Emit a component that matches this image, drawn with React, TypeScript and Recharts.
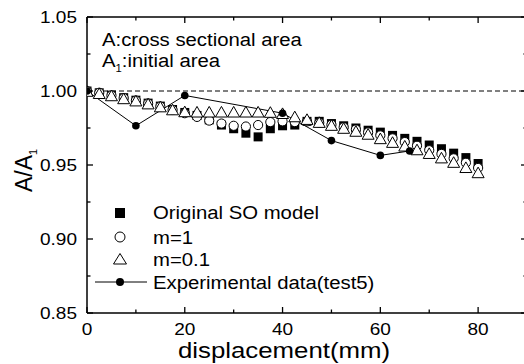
import React from 'react';
import { ComposedChart, XAxis, YAxis, Scatter, Line, ReferenceLine } from 'recharts';

// ---------- data ----------
const displacement = [
  0, 2.5, 5, 7.5, 10, 12.5, 15, 17.5, 20, 22.5, 25, 27.5, 30, 32.5, 35, 37.5, 40,
  42.5, 45, 47.5, 50, 52.5, 55, 57.5, 60, 62.5, 65, 67.5, 70, 72.5, 75, 77.5, 80,
];
const soModel = [
  1.0, 0.9988, 0.9972, 0.9955, 0.9938, 0.9918, 0.9898, 0.9875, 0.9855, 0.9835, 0.9805,
  0.977, 0.9745, 0.9715, 0.969, 0.9745, 0.9765, 0.977, 0.9795, 0.9795, 0.978, 0.9765,
  0.975, 0.9735, 0.9722, 0.97, 0.968, 0.966, 0.9635, 0.961, 0.958, 0.955, 0.951,
];
const m1 = [
  1.0, 0.9988, 0.997, 0.9952, 0.9935, 0.9915, 0.9895, 0.9872, 0.985, 0.9825, 0.98,
  0.978, 0.9765, 0.976, 0.977, 0.979, 0.9795, 0.979, 0.9795, 0.9785, 0.9772, 0.9755,
  0.974, 0.972, 0.97, 0.968, 0.9655, 0.963, 0.96, 0.9575, 0.9545, 0.9515, 0.948,
];
const m01 = [
  1.0, 0.9985, 0.997, 0.995, 0.9935, 0.9915, 0.9895, 0.9875, 0.9862, 0.986, 0.986,
  0.986, 0.986, 0.986, 0.986, 0.9858, 0.985, 0.9828, 0.981, 0.979, 0.977, 0.975,
  0.973, 0.971, 0.968, 0.9655, 0.963, 0.9605, 0.958, 0.955, 0.952, 0.9485, 0.945,
];
const expX = [0, 10, 20, 40, 50, 60, 66];
const expY = [1.0, 0.9765, 0.997, 0.985, 0.9665, 0.9565, 0.9595];

const seriesNames = ['Original SO model', 'm=1', 'm=0.1', 'Experimental data(test5)'];
const xTicks = [0, 10, 20, 30, 40, 50, 60, 70, 80, 90];
const xMajor = [0, 20, 40, 60, 80];
const yTicks = [0.85, 0.875, 0.9, 0.925, 0.95, 0.975, 1.0, 1.025, 1.05];
const yMajor = [0.85, 0.9, 0.95, 1.0, 1.05];
const note1 = 'A:cross sectional area';
const note2Main = 'A';
const note2Sub = '1';
const note2Rest = ':initial area';
const xTitle = 'displacement(mm)';
const yTitleMain = 'A/A';
const yTitleSub = '1';

// ---------- build ----------
const toPts = (ys: number[]) => displacement.map((x, i) => ({ x, y: ys[i] }));
const soData = toPts(soModel);
const m1Data = toPts(m1);
const m01Data = toPts(m01);
const expData = expX.map((x, i) => ({ x, y: expY[i] }));

const FONT = '"Liberation Sans", Arial, sans-serif';
const SX = 1.12;

const isMajor = (list: number[], v: number) => list.some((m) => Math.abs(m - v) < 1e-9);

const BottomTick = (p: any) => {
  const { x, y, payload } = p;
  const v = payload.value;
  const major = isMajor(xMajor, v);
  return (
    <g>
      <line x1={x} x2={x} y1={y} y2={y - (major ? 6 : 3.5)} stroke="#000" strokeWidth={1.3} />
      {major && (
        <text transform={`translate(${x},${y + 22}) scale(${SX},1)`} textAnchor="middle" fontSize={17} fontFamily={FONT} fill="#000">
          {String(v)}
        </text>
      )}
    </g>
  );
};
const TopTick = (p: any) => {
  const { x, y, payload } = p;
  const major = isMajor(xMajor, payload.value);
  return <line x1={x} x2={x} y1={y} y2={y + (major ? 6 : 3.5)} stroke="#000" strokeWidth={1.3} />;
};
const LeftTick = (p: any) => {
  const { x, y, payload } = p;
  const v = payload.value;
  const major = isMajor(yMajor, v);
  return (
    <g>
      <line x1={x} x2={x + (major ? 6 : 3.5)} y1={y} y2={y} stroke="#000" strokeWidth={1.3} />
      {major && (
        <text transform={`translate(${x - 10},${y + 6}) scale(${SX},1)`} textAnchor="end" fontSize={17} fontFamily={FONT} fill="#000">
          {v.toFixed(2)}
        </text>
      )}
    </g>
  );
};
const RightTick = (p: any) => {
  const { x, y, payload } = p;
  const major = isMajor(yMajor, payload.value);
  return <line x1={x} x2={x - (major ? 6 : 3.5)} y1={y} y2={y} stroke="#000" strokeWidth={1.3} />;
};

const SquareShape = (p: any) => <rect x={p.cx - 4.5} y={p.cy - 4.5} width={9} height={9} fill="#000" />;
const CircleShape = (p: any) => <circle cx={p.cx} cy={p.cy} r={4.6} fill="#fff" stroke="#000" strokeWidth={1} />;
const TriangleShape = (p: any) => (
  <path d={`M${p.cx},${p.cy - 5.3} L${p.cx + 6},${p.cy + 5.3} L${p.cx - 6},${p.cy + 5.3} Z`} fill="#fff" stroke="#000" strokeWidth={1} />
);
const ExpDot = (p: any) => <circle key={`d${p.index}`} cx={p.cx} cy={p.cy} r={3.8} fill="#000" />;

const axisLine = { stroke: '#000', strokeWidth: 1.5 };

export default function App() {
  return (
    <div style={{ position: 'absolute', left: 0, top: 0, width: 524, height: 364, overflow: 'hidden', background: '#fff' }}>
      <ComposedChart width={537} height={364} margin={{ top: 0, right: 0, bottom: 0, left: 0 }}>
        <XAxis xAxisId="b" dataKey="x" type="number" domain={[0, 90]} ticks={xTicks} interval={0} height={51}
          tickSize={0} tickMargin={0} tickLine={false} axisLine={axisLine} tick={BottomTick} allowDataOverflow />
        <XAxis xAxisId="t" orientation="top" dataKey="x" type="number" domain={[0, 90]} ticks={xTicks} interval={0} height={17}
          tickSize={0} tickMargin={0} tickLine={false} axisLine={axisLine} tick={TopTick} allowDataOverflow />
        <YAxis yAxisId="l" type="number" domain={[0.85, 1.05]} ticks={yTicks} interval={0} width={87}
          tickSize={0} tickMargin={0} tickLine={false} axisLine={axisLine} tick={LeftTick} allowDataOverflow />
        <YAxis yAxisId="r" orientation="right" type="number" domain={[0.85, 1.05]} ticks={yTicks} interval={0} width={10}
          tickSize={0} tickMargin={0} tickLine={false} axisLine={axisLine} tick={RightTick} allowDataOverflow />
        <ReferenceLine xAxisId="b" yAxisId="l" y={1.0} stroke="#000" strokeWidth={1} strokeDasharray="5 3" />
        <Scatter xAxisId="b" yAxisId="l" name={seriesNames[0]} data={soData} dataKey="y" shape={SquareShape} isAnimationActive={false} />
        <Scatter xAxisId="b" yAxisId="l" name={seriesNames[1]} data={m1Data} dataKey="y" shape={CircleShape} isAnimationActive={false} />
        <Scatter xAxisId="b" yAxisId="l" name={seriesNames[2]} data={m01Data} dataKey="y" shape={TriangleShape} isAnimationActive={false} />
        <Line xAxisId="b" yAxisId="l" name={seriesNames[3]} data={expData} dataKey="y" type="linear" stroke="#000" strokeWidth={1}
          dot={ExpDot} activeDot={false} isAnimationActive={false} />
      </ComposedChart>
      <svg width={524} height={364} style={{ position: 'absolute', left: 0, top: 0, pointerEvents: 'none' }} fontFamily={FONT}>
        <text transform={`translate(102,45.5) scale(1.13,1)`} fontSize={18} fill="#000">{note1}</text>
        <text transform={`translate(102,67) scale(1.13,1)`} fontSize={18} fill="#000">
          {note2Main}
          <tspan fontSize={10} dy={5}>{note2Sub}</tspan>
          <tspan dy={-5}>{note2Rest}</tspan>
        </text>
        {/* legend */}
        <rect x={115} y={208} width={10} height={10} fill="#000" />
        <circle cx={120} cy={237} r={5} fill="#fff" stroke="#000" strokeWidth={1} />
        <path d="M120,253.5 L126.5,264 L113.5,264 Z" fill="#fff" stroke="#000" strokeWidth={1} />
        <line x1={95} x2={147} y1={282} y2={282} stroke="#000" strokeWidth={1} />
        <circle cx={120} cy={282} r={4} fill="#000" />
        {seriesNames.map((n, i) => (
          <text key={n} transform={`translate(153,${[219, 244, 265.7, 288.7][i]}) scale(1.13,1)`} fontSize={18} fill="#000">{n}</text>
        ))}
        {/* axis titles */}
        <text transform="translate(284,358) scale(1.2,1)" textAnchor="middle" fontSize={21.5} fill="#000">{xTitle}</text>
        <text transform="translate(32,192) rotate(-90)" fontSize={23} fill="#000">
          {yTitleMain}
          <tspan fontSize={11} dy={5}>{yTitleSub}</tspan>
        </text>
      </svg>
    </div>
  );
}
